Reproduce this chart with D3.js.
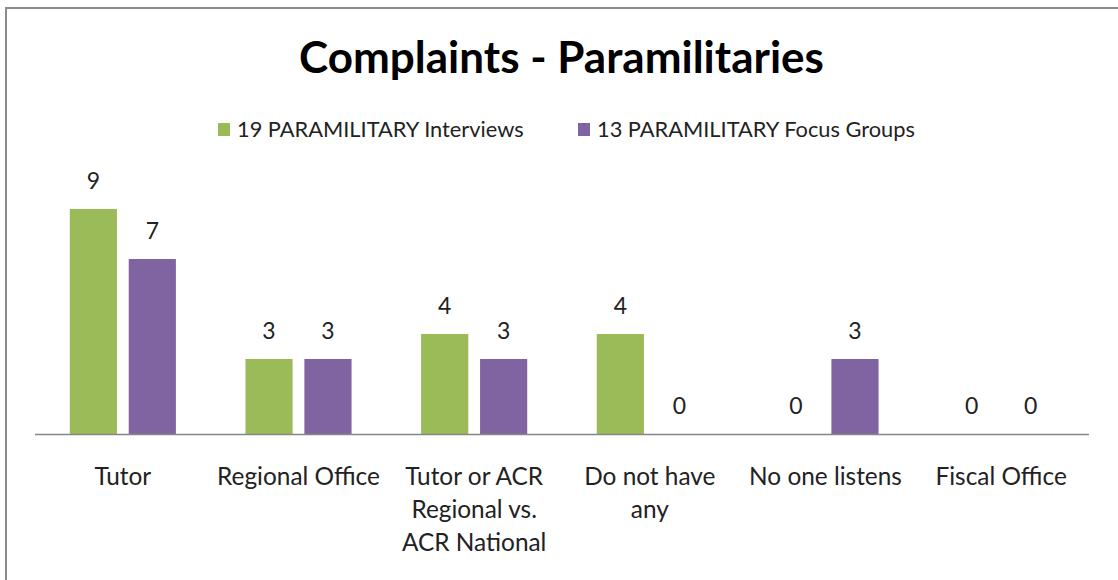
<!DOCTYPE html>
<html>
<head>
<meta charset="utf-8">
<script src="https://cdn.jsdelivr.net/npm/d3@7"></script>
<style>
  html, body { margin: 0; padding: 0; background: #fff; }
  svg { display: block; }
</style>
</head>
<body>
<svg id="chart"></svg>
<script>
// data =========================================================
const title = 'Complaints - Paramilitaries';
const categories = [
  ['Tutor'],
  ['Regional Office'],
  ['Tutor or ACR', 'Regional vs.', 'ACR National'],
  ['Do not have', 'any'],
  ['No one listens'],
  ['Fiscal Office']
];
const series_names = ['19 PARAMILITARY Interviews', '13 PARAMILITARY Focus Groups'];
const interviews   = [9, 3, 4, 4, 0, 0];
const focus_groups = [7, 3, 3, 0, 3, 0];
const colors = ['#9bbb59', '#8064a2'];

const width = 1118, height = 580;
const margin = { left: 35, right: 29, axis: 434, top: 184 };
const font = 'Lato, "Open Sans", sans-serif';

const svg = d3.select('#chart').attr('width', width).attr('height', height);

// frame
svg.append('path')
  .attr('d', `M6,${height}V8H${width}`)
  .attr('fill', 'none').attr('stroke', '#8c8c8c').attr('stroke-width', 2);

const keys = categories.map((c, i) => i);
const sx = d3.scaleBand().domain(keys)
  .range([margin.left, width - margin.right]);
const sb = d3.scaleBand().domain([0, 1])
  .range([0, sx.bandwidth()]).paddingInner(0.2).paddingOuter(0.59);
const sy = d3.scaleLinear().domain([0, 10])
  .range([margin.axis, margin.top]);

const series = [interviews, focus_groups];

// bars
series.forEach((vals, s) => {
  const g = svg.append('g');
  g.selectAll('rect').data(vals).join('rect')
    .attr('x', (d, i) => sx(i) + sb(s))
    .attr('width', sb.bandwidth())
    .attr('y', d => sy(d))
    .attr('height', d => sy(0) - sy(d))
    .attr('fill', colors[s]);
  g.selectAll('text').data(vals).join('text')
    .attr('x', (d, i) => sx(i) + sb(s) + sb.bandwidth() / 2)
    .attr('y', d => sy(d) - 20)
    .attr('text-anchor', 'middle')
    .style('font-family', font).style('font-size', '23px').attr('fill', '#222')
    .text(d => d);
});

// x axis line
svg.append('line')
  .attr('x1', margin.left).attr('x2', width - margin.right)
  .attr('y1', sy(0) + 0.5).attr('y2', sy(0) + 0.5)
  .attr('stroke', '#868686').attr('stroke-width', 1.5);

// category labels
const cl = svg.append('g')
  .style('font-family', font).style('font-size', '24.4px').attr('fill', '#222');
categories.forEach((lines, i) => {
  const t = cl.append('text')
    .attr('x', sx(i) + sx.bandwidth() / 2)
    .attr('y', 485)
    .attr('text-anchor', 'middle');
  lines.forEach((l, k) => t.append('tspan')
    .attr('x', sx(i) + sx.bandwidth() / 2)
    .attr('dy', k ? 33 : 0)
    .text(l));
});

// title
svg.append('text')
  .attr('x', 561.5).attr('y', 73)
  .attr('text-anchor', 'middle')
  .style('font-family', font).style('font-size', '44px').style('font-weight', 'bold')
  .attr('fill', '#000')
  .text(title);

// legend
const legend_x = [218, 578];
series_names.forEach((name, s) => {
  svg.append('rect')
    .attr('x', legend_x[s]).attr('y', 123)
    .attr('width', 12).attr('height', 13)
    .attr('fill', colors[s]);
  svg.append('text')
    .attr('x', legend_x[s] + 19).attr('y', 137)
    .style('font-family', font).style('font-size', '21.8px').attr('fill', '#222')
    .text(name);
});
</script>
</body>
</html>
